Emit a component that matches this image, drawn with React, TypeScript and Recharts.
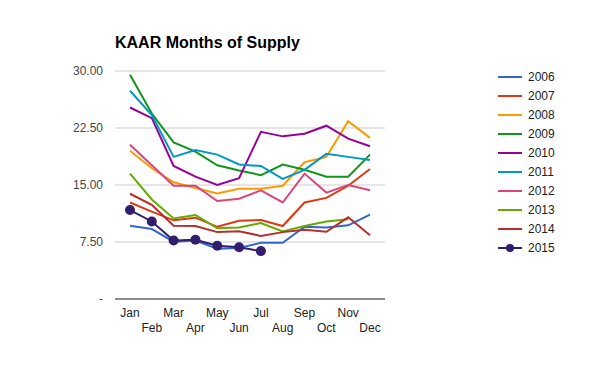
import { LineChart, Line, XAxis, YAxis, CartesianGrid, Legend } from 'recharts';

const months = ['Jan', 'Feb', 'Mar', 'Apr', 'May', 'Jun', 'Jul', 'Aug', 'Sep', 'Oct', 'Nov', 'Dec'];
const years = ['2006', '2007', '2008', '2009', '2010', '2011', '2012', '2013', '2014', '2015'];
const colors = ['#3366cc', '#dc3912', '#ff9900', '#109618', '#990099', '#0099c6', '#dd4477', '#66aa00', '#b82e2e', '#311e6e'];

const s2006 = [9.65, 9.2, 7.55, 7.7, 6.6, 6.7, 7.4, 7.4, 9.5, 9.4, 9.7, 11.1];
const s2007 = [12.7, 11.5, 10.35, 10.7, 9.5, 10.3, 10.4, 9.6, 12.7, 13.3, 14.9, 17.1];
const s2008 = [19.5, 17.2, 15.35, 14.6, 13.9, 14.5, 14.5, 14.9, 18.0, 18.7, 23.4, 21.2];
const s2009 = [29.5, 24.4, 20.6, 19.4, 17.6, 16.9, 16.3, 17.7, 17.0, 16.1, 16.1, 19.0];
const s2010 = [25.2, 23.8, 17.5, 16.1, 15.0, 15.9, 22.0, 21.4, 21.75, 22.8, 21.1, 20.1];
const s2011 = [27.4, 24.2, 18.7, 19.6, 19.0, 17.7, 17.5, 15.8, 17.0, 19.1, 18.7, 18.3];
const s2012 = [20.3, 17.6, 14.9, 14.9, 12.9, 13.2, 14.3, 12.7, 16.5, 14.0, 15.0, 14.3];
const s2013 = [16.5, 13.1, 10.6, 11.05, 9.3, 9.4, 10.0, 8.9, 9.6, 10.2, 10.5, null];
const s2014 = [13.85, 12.4, 9.65, 9.6, 8.8, 8.9, 8.3, 8.8, 9.1, 8.85, 10.75, 8.4];
const s2015 = [11.7, 10.2, 7.7, 7.8, 7.0, 6.8, 6.3, null, null, null, null, null];

const series = [s2006, s2007, s2008, s2009, s2010, s2011, s2012, s2013, s2014, s2015];
const yTicks = [0, 7.5, 15, 22.5, 30];

const data = months.map((m, i) => {
  const row: Record<string, string | number | null> = { month: m };
  years.forEach((y, j) => {
    row[y] = series[j][i];
  });
  return row;
});

const font = 'Arial, "Liberation Sans", sans-serif';

const MonthTick = (props: any) => {
  const { x, y, payload } = props;
  const idx = months.indexOf(payload.value);
  return (
    <text x={x} y={y} dy={idx % 2 === 0 ? 10 : 25} textAnchor="middle" fontSize={12} fill="#222" fontFamily={font}>
      {payload.value}
    </text>
  );
};

const renderLegend = () => (
  <div style={{ fontFamily: font }}>
    {years.map((y, i) => (
      <div key={y} style={{ display: 'flex', alignItems: 'center', height: 19 }}>
        <svg width={26} height={10}>
          <line x1={0} y1={5} x2={24} y2={5} stroke={colors[i]} strokeWidth={2} />
          {i === 9 && <circle cx={12} cy={5} r={4} fill={colors[i]} />}
        </svg>
        <span style={{ fontSize: 12, color: '#222', marginLeft: 4 }}>{y}</span>
      </div>
    ))}
  </div>
);

export default function App() {
  return (
    <div style={{ position: 'absolute', left: 0, top: 0, width: 600, height: 371, background: '#fff' }}>
      <div
        style={{
          position: 'absolute', left: 115, top: 35, fontFamily: font, fontWeight: 'bold',
          fontSize: 16, lineHeight: '16px', color: '#000', whiteSpace: 'nowrap',
        }}
      >
        KAAR Months of Supply
      </div>
      <LineChart width={600} height={371} data={data} margin={{ top: 71, right: 115, bottom: 32, left: 0 }}>
        <CartesianGrid vertical={false} stroke="#cccccc" />
        <XAxis
          dataKey="month"
          interval={0}
          height={40}
          padding={{ left: 15, right: 15 }}
          tickLine={false}
          axisLine={{ stroke: '#333333' }}
          tick={<MonthTick />}
        />
        <YAxis
          type="number"
          domain={[0, 30]}
          ticks={yTicks}
          width={115}
          axisLine={false}
          tickLine={false}
          tickMargin={6}
          tick={{ fontSize: 12, fill: '#444', fontFamily: font }}
          tickFormatter={(v: number) => (v === 0 ? '-' : v.toFixed(2))}
        />
        <Legend
          layout="vertical"
          align="right"
          verticalAlign="top"
          content={renderLegend}
          wrapperStyle={{ position: 'absolute', left: 498, top: 67, width: 100 }}
        />
        {years.map((y, i) => (
          <Line
            key={y}
            type="linear"
            dataKey={y}
            stroke={colors[i]}
            strokeWidth={2}
            dot={i === 9 ? { r: 5, fill: colors[i], stroke: colors[i], strokeWidth: 0 } : false}
            activeDot={false}
            isAnimationActive={false}
          />
        ))}
      </LineChart>
    </div>
  );
}
